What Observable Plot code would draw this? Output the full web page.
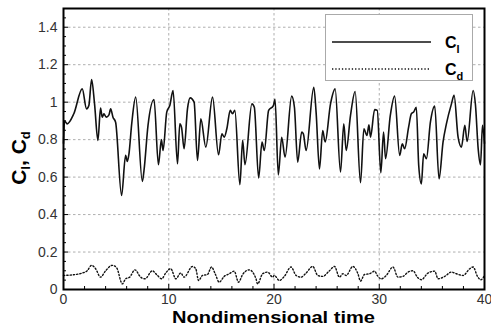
<!DOCTYPE html>
<html>
<head>
<meta charset="utf-8">
<script src="https://cdn.jsdelivr.net/npm/d3@7"></script>
<script src="https://cdn.jsdelivr.net/npm/@observablehq/plot@0.6"></script>
<style>
  body { margin: 0; background: #fff; font-family: "Liberation Sans", Arial, sans-serif; }
  #wrap { position: relative; width: 491px; height: 330px; }
  #legend { position: absolute; left: 325px; top: 14px; width: 148px; height: 67px;
            border: 1px solid #aaa; background: #fff; box-sizing: border-box; }
  #legend svg { position: absolute; left: 0; top: 0; }
</style>
</head>
<body>
<div id="wrap"></div>
<script>
// ---- data ----
const clTime = [0,0.1,0.35,0.98,1.78,2.19,2.41,2.67,2.95,3.27,3.52,3.68,3.84,4.06,4.32,4.48,4.70,4.95,5.52,5.90,6.06,6.22,6.48,6.86,7.49,7.65,8.03,8.60,9.02,9.30,9.46,9.81,10.10,10.41,10.83,11.05,11.21,11.46,11.78,12.03,12.41,12.73,13.05,13.52,14.16,14.73,15.05,15.27,15.52,15.84,16.06,16.28,16.76,17.02,17.24,17.90,18.13,18.54,18.86,19.08,19.49,19.94,20.10,20.41,20.73,21.05,21.68,21.94,22.25,22.63,22.79,23.05,23.78,24.00,24.32,24.63,24.86,25.37,25.81,26.32,26.63,26.86,27.27,27.71,28.22,28.54,28.83,29.02,29.17,29.56,29.81,30.15,30.41,30.60,31.05,31.46,31.94,32.19,32.41,32.79,33.05,33.27,33.52,33.75,34.00,34.22,34.48,34.86,35.27,35.68,36.06,36.38,36.86,37.11,37.49,37.81,38.13,38.35,38.92,39.14,39.40,39.62,39.81,40.00];
const clValue = [0.78,0.90,0.884,0.938,1.071,0.964,0.982,1.121,0.991,0.796,0.968,0.920,0.938,0.920,0.932,0.964,0.920,0.893,0.502,0.716,0.684,0.724,0.884,1.027,0.577,0.636,0.876,1.014,0.666,0.800,0.742,0.947,0.982,1.062,0.671,0.884,0.867,0.751,0.964,1.023,1.000,0.689,0.911,0.760,1.027,0.719,0.831,0.813,0.858,0.956,0.938,0.956,0.559,0.796,0.666,0.991,0.973,0.595,0.787,0.742,0.956,0.982,1.015,0.612,0.813,0.707,1.032,0.973,0.680,0.840,0.831,0.742,1.080,0.947,0.644,0.849,0.787,0.991,1.071,0.627,0.884,0.742,0.929,1.057,0.570,0.858,0.822,0.879,0.813,0.960,0.956,0.623,0.840,0.698,0.929,1.032,0.716,0.778,0.751,0.867,0.938,0.947,0.973,0.662,0.564,0.724,0.698,0.893,0.979,0.591,0.787,0.884,0.991,1.036,0.813,0.760,0.876,0.790,1.062,0.986,0.751,0.666,0.876,0.78];

const cdTime = [0,1.14,1.78,2.25,2.67,3.05,3.52,4.00,4.63,5.05,5.59,5.90,6.29,6.79,7.33,7.75,8.44,8.92,9.33,9.71,10.19,10.67,11.14,11.46,12.25,12.57,12.83,13.21,13.68,14.06,14.41,14.79,15.27,15.75,16.22,16.63,17.02,17.65,18.29,18.44,18.92,19.40,19.87,20.03,20.51,20.98,21.62,22.10,22.57,23.05,23.68,24.16,24.63,25.27,25.75,26.22,26.54,26.86,27.49,27.97,28.22,28.60,29.08,29.56,29.81,30.19,30.67,31.30,31.78,32.25,32.73,33.21,33.62,34.00,34.63,35.27,35.59,36.22,36.86,37.33,37.97,38.60,38.92,39.33,39.65,40.00];
const cdValue = [0.075,0.080,0.088,0.100,0.129,0.111,0.066,0.100,0.129,0.116,0.030,0.057,0.066,0.105,0.066,0.057,0.100,0.075,0.057,0.088,0.111,0.057,0.088,0.066,0.123,0.111,0.048,0.075,0.080,0.120,0.084,0.039,0.070,0.084,0.098,0.039,0.080,0.105,0.057,0.030,0.084,0.093,0.066,0.075,0.048,0.070,0.120,0.075,0.066,0.088,0.123,0.075,0.070,0.100,0.123,0.066,0.084,0.075,0.123,0.084,0.045,0.080,0.084,0.098,0.075,0.057,0.075,0.120,0.066,0.070,0.093,0.100,0.066,0.052,0.088,0.098,0.057,0.070,0.093,0.084,0.075,0.111,0.120,0.070,0.052,0.075];

const xTickLabels = ["0", "10", "20", "30", "40"];
const yTickLabels = ["0", "0.2", "0.4", "0.6", "0.8", "1", "1.2", "1.4"];
const xMinorTicks = [2,4,6,8,12,14,16,18,22,24,26,28,32,34,36,38];
const yMinorTicks = [0.05,0.1,0.15,0.25,0.3,0.35,0.45,0.5,0.55,0.65,0.7,0.75,0.85,0.9,0.95,1.05,1.1,1.15,1.25,1.3,1.35,1.45];
const seriesNames = ["C", "C"];
const seriesSubs = ["l", "d"];
const xTitle = "Nondimensional time";

// ---- build tables ----
const cl = clTime.map((t, i) => ({t, v: clValue[i]}));
const cd = cdTime.map((t, i) => ({t, v: cdValue[i]}));
const xMajor = xTickLabels.map(Number);
const yMajor = yTickLabels.map(Number);
const yLab = new Map(yMajor.map((d, i) => [d, yTickLabels[i]]));
const xLab = new Map(xMajor.map((d, i) => [d, xTickLabels[i]]));

const gridStyle = {stroke: "#9a9a9a", strokeOpacity: 1, strokeWidth: 0.8, strokeDasharray: "2.5,2.5"};
const dotted = "1.3,2";

const chart = Plot.plot({
  width: 491, height: 330,
  marginLeft: 63, marginRight: 7, marginTop: 8, marginBottom: 41,
  style: {fontFamily: "'Liberation Sans', Arial, sans-serif", fontSize: "14px", color: "#333", background: "#fff"},
  x: {domain: [0, 40], label: null},
  y: {domain: [0, 1.5], label: null},
  marks: [
    Plot.gridY(yMajor.filter(d => d > 0), gridStyle),
    Plot.gridX(xMajor.filter(d => d > 0 && d < 40), gridStyle),
    Plot.axisY(yMinorTicks, {tickSize: 3, dx: 3, text: null, label: null, stroke: "#000"}),
    Plot.axisY(yMajor, {tickSize: 5, dx: 5, text: null, label: null, stroke: "#000"}),
    Plot.axisY(yMajor, {tickSize: 0, tickPadding: 6, tickFormat: d => yLab.get(d), label: null, fill: "#333"}),
    Plot.axisX(xMinorTicks, {tickSize: 3, dy: -3, text: null, label: null, stroke: "#000"}),
    Plot.axisX(xMajor, {tickSize: 5, dy: -5, text: null, label: null, stroke: "#000"}),
    Plot.axisX(xMajor, {tickSize: 0, tickPadding: 5, tickFormat: d => xLab.get(d), label: null, fill: "#333"}),
    Plot.line(cl, {x: "t", y: "v", stroke: "#111", strokeWidth: 1.6, curve: "monotone-x"}),
    Plot.line(cd, {x: "t", y: "v", stroke: "#111", strokeWidth: 1.4, strokeDasharray: dotted, curve: "monotone-x"}),
    Plot.frame({stroke: "#000", strokeWidth: 2})
  ]
});

const wrap = document.getElementById("wrap");
wrap.appendChild(chart);

const svg = d3.select(chart);
// x title
svg.append("text")
  .attr("x", 273.5).attr("y", 323)
  .attr("text-anchor", "middle")
  .attr("font-family", "'Liberation Sans', Arial, sans-serif")
  .attr("font-weight", "bold").attr("font-size", 17)
  .attr("textLength", 203).attr("lengthAdjust", "spacingAndGlyphs")
  .attr("fill", "#000")
  .text(xTitle);

// y title with subscripts
const yt = svg.append("text")
  .attr("transform", "translate(26,158) rotate(-90)")
  .attr("text-anchor", "middle")
  .attr("font-family", "'Liberation Sans', Arial, sans-serif")
  .attr("font-weight", "bold").attr("font-size", 21)
  .attr("fill", "#000");
yt.append("tspan").text(seriesNames[0]);
yt.append("tspan").attr("font-size", 13).attr("dy", 4).text(seriesSubs[0]);
yt.append("tspan").attr("dy", -4).text(", " + seriesNames[1]);
yt.append("tspan").attr("font-size", 13).attr("dy", 4).text(seriesSubs[1]);

// legend box
const legend = document.createElement("div");
legend.id = "legend";
wrap.appendChild(legend);
const ls = d3.select(legend).append("svg").attr("width", 148).attr("height", 67);
const rows = [{y: 27, dash: null, w: 1.6}, {y: 54, dash: dotted, w: 1.4}];
rows.forEach((r, i) => {
  ls.append("line").attr("x1", 6).attr("x2", 105).attr("y1", r.y).attr("y2", r.y)
    .attr("stroke", "#111").attr("stroke-width", r.w)
    .attr("stroke-dasharray", r.dash);
  const t = ls.append("text").attr("x", 119).attr("y", r.y + 6)
    .attr("font-family", "'Liberation Sans', Arial, sans-serif")
    .attr("font-weight", "bold").attr("font-size", 16).attr("fill", "#000");
  t.append("tspan").text(seriesNames[i]);
  t.append("tspan").attr("font-size", 11).attr("dy", 5).text(seriesSubs[i]);
});
</script>
</body>
</html>
